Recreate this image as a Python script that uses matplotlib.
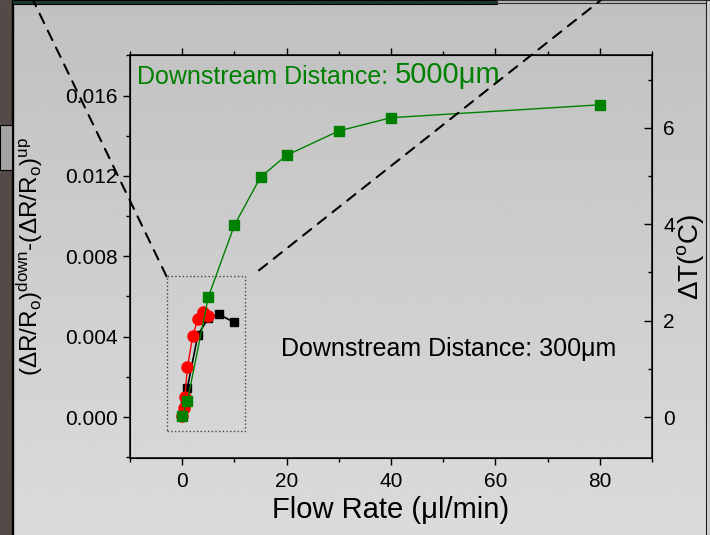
import matplotlib
matplotlib.use('Agg')
import numpy as np
from matplotlib import pyplot as plt
from matplotlib.patches import Rectangle, ConnectionPatch
from matplotlib.ticker import MultipleLocator

# Data
flow_green = [0, 1, 5, 10, 15, 20, 30, 40, 80]
signal_green = [0.00006, 0.0008, 0.00597, 0.00955, 0.01194, 0.01303, 0.01424, 0.0149, 0.01554]

flow_black = [0, 0.5, 1, 3, 5, 7, 10]
signal_black = [0.0001, 0.0006, 0.00146, 0.00408, 0.00493, 0.00511, 0.00471]

flow_red = [0, 0.25, 0.5, 1, 2, 3, 4, 5]
signal_red = [0.00005, 0.00043, 0.00098, 0.00247, 0.00401, 0.00488, 0.00521, 0.00501]

# zoom box of the low flow region
box_x = (-3, 12)
box_y = (-0.0007, 0.007)

# right axis: degrees per unit of the left axis
deg_per_signal = 1 / 0.0024

plt.rcParams['font.family'] = ['Liberation Sans', 'DejaVu Sans']
plt.rcParams['mathtext.fontset'] = 'custom'
plt.rcParams['mathtext.rm'] = 'Liberation Sans'
plt.rcParams['mathtext.it'] = 'Liberation Sans:italic'
plt.rcParams['mathtext.default'] = 'regular'

W, H = 710, 535
fig = plt.figure(figsize=(W / 100, H / 100), dpi=100)

# gradient background
bg = fig.add_axes([0, 0, 1, 1], zorder=-10)
grad = np.linspace(0.755, 0.858, 256).reshape(-1, 1)
bg.imshow(grad, aspect='auto', cmap='gray', vmin=0, vmax=1, extent=[0, 1, 0, 1], origin='upper')
bg.set_axis_off()

# frame pieces from the surrounding slide
fig.patches.append(Rectangle((0, 0), 12 / W, 1, transform=fig.transFigure, color='#544a48', zorder=-5))
fig.patches.append(Rectangle((12 / W, 0), 1.5 / W, 1, transform=fig.transFigure, color='black', zorder=-5))
fig.patches.append(Rectangle((0, 1 - 170 / H), 12 / W, 45 / H, transform=fig.transFigure,
                             facecolor='#a3a3a3', edgecolor='black', lw=0.8, zorder=-4))
fig.patches.append(Rectangle((12 / W, 1 - 3.5 / H), 485 / W, 3.5 / H, transform=fig.transFigure,
                             facecolor='#1d3b30', edgecolor='black', lw=0.8, zorder=-4))
fig.patches.append(Rectangle((497 / W, 1 - 2.5 / H), 213 / W, 2.5 / H, transform=fig.transFigure,
                             facecolor='#b8b8b8', edgecolor='#333333', lw=0.8, zorder=-4))
fig.patches.append(Rectangle((706 / W, 0), 4 / W, 1, transform=fig.transFigure,
                             facecolor='#d0d0d0', edgecolor='#222222', lw=0.8, zorder=-4))

ax = fig.add_axes([130 / W, 1 - 458 / H, 522 / W, 403 / H])
ax.set_facecolor('none')

ax.plot(flow_black, signal_black, color='black', lw=1.2, marker='s', ms=6, zorder=3)
ax.plot(flow_red, signal_red, color='red', lw=1.0, marker='o', ms=8, zorder=4)
ax.plot(flow_green, signal_green, color='green', lw=1.0, marker='s', ms=6.5, zorder=5)

ax.add_patch(Rectangle((box_x[0], box_y[0]), box_x[1] - box_x[0], box_y[1] - box_y[0],
                       fill=False, ls=':', lw=1.0, edgecolor='#444444', zorder=2))

ax.set_xlim(-10, 90)
ax.set_ylim(-0.00204, 0.01802)
ax.xaxis.set_major_locator(MultipleLocator(20))
ax.xaxis.set_minor_locator(MultipleLocator(10))
ax.set_yticks([0, 0.004, 0.008, 0.012, 0.016])
ax.set_yticklabels(['0.000', '0.004', '0.008', '0.012', '0.016'])
ax.yaxis.set_minor_locator(MultipleLocator(0.002))
ax.tick_params(axis='both', which='major', direction='out', length=5, width=1, labelsize=15, pad=4)
ax.tick_params(axis='both', which='minor', direction='out', length=3, width=1)
ax.tick_params(axis='x', which='both', top=True, labeltop=False)
ax.tick_params(axis='x', which='major', pad=5)
for sp in ax.spines.values():
    sp.set_linewidth(1.1)

ax.set_xlabel('Flow Rate (\u03bcl/min)', fontsize=21, labelpad=4)
ax.set_ylabel('(\u0394R/R$_o$)$^{down}$-(\u0394R/R$_o$)$^{up}$', fontsize=17.5)
ax.yaxis.set_label_coords(-0.163, 0.5)

ax2 = ax.twinx()
ax2.set_ylim(ax.get_ylim()[0] * deg_per_signal, ax.get_ylim()[1] * deg_per_signal)
ax2.yaxis.set_major_locator(MultipleLocator(2))
ax2.yaxis.set_minor_locator(MultipleLocator(1))
ax2.tick_params(axis='y', which='major', direction='in', length=6, width=1, labelsize=15, pad=8)
ax2.tick_params(axis='y', which='minor', direction='in', length=3, width=1)
ax2.set_ylabel('\u0394T($^o$C)', fontsize=20)
ax2.yaxis.set_label_coords(1.045, 0.5)

# annotations
t1 = ax.text(0.013, 0.945, 'Downstream Distance: ', transform=ax.transAxes, fontsize=18,
             color='green', va='center', ha='left', zorder=6)
ax.annotate('5000\u03bcm', xy=(1, 0), xycoords=t1, fontsize=21, color='green',
            va='bottom', ha='left', zorder=6)
ax.text(19, 0.0034, 'Downstream Distance: 300\u03bcm', fontsize=18, color='black',
        va='center', ha='left', zorder=6)

# zoom connector lines running out to the top of the slide
for xa, ya, xb in [(box_x[0], box_y[1], 33 / W), (14.7, 0.0073, 601 / W)]:
    con = ConnectionPatch(xyA=(xa, ya), coordsA=ax.transData, xyB=(xb, 1.0),
                          coordsB=fig.transFigure, ls=(0, (5, 4)), lw=1.5, color='black', zorder=1)
    fig.add_artist(con)

fig.savefig('out.png', dpi=100)
